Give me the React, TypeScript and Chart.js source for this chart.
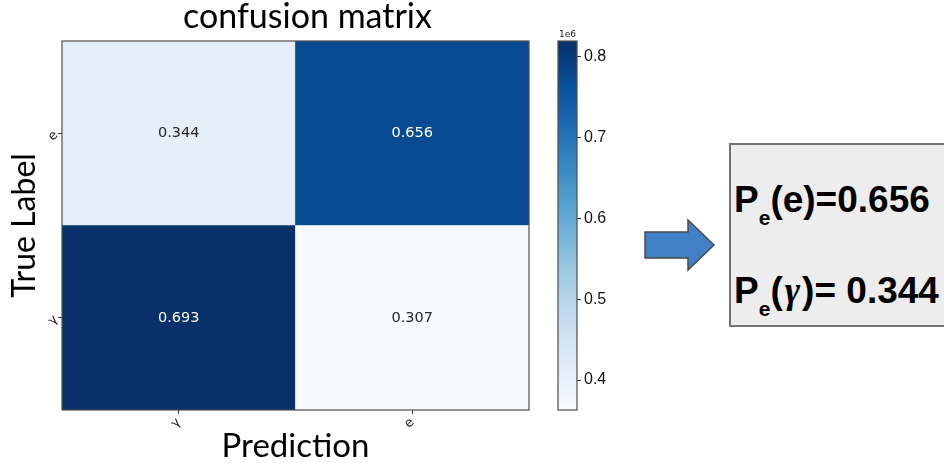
import React, { useEffect, useRef } from "react";
import { Chart, registerables } from "chart.js";

Chart.register(...registerables);

// Class names: predicted classes along x, true classes along y (bottom row first)
const predictedClasses = ["γ", "e"];
const trueClasses = ["γ", "e"];

// Event counts for each true class, split by predicted class (γ, e)
const countsTrueGamma = [819000, 363000];
const countsTrueE = [405000, 773000];

// Colour-bar tick values, in units of 1e6 events
const colorbarTicks = [0.4, 0.5, 0.6, 0.7, 0.8];

// matplotlib "Blues" colour map anchors
const BLUES = [
  "#f7fbff", "#deebf7", "#c6dbef", "#9ecae1", "#6baed6",
  "#4292c6", "#2171b5", "#08519c", "#08306b",
];

const rowCounts = [countsTrueGamma, countsTrueE];
const allCounts = rowCounts.flat();
const vmin = Math.min(...allCounts);
const vmax = Math.max(...allCounts);
const threshold = (vmin + vmax) / 2;

function hexToRgb(h: string) {
  const n = parseInt(h.slice(1), 16);
  return [(n >> 16) & 255, (n >> 8) & 255, n & 255];
}

function blues(t: number) {
  const x = Math.min(1, Math.max(0, t)) * (BLUES.length - 1);
  const i = Math.min(BLUES.length - 2, Math.floor(x));
  const f = x - i;
  const a = hexToRgb(BLUES[i]);
  const b = hexToRgb(BLUES[i + 1]);
  const c = a.map((v, k) => Math.round(v + (b[k] - v) * f));
  return `rgb(${c[0]}, ${c[1]}, ${c[2]})`;
}

// Row-normalised rate for true class `row`, predicted class `col`
function rate(row: number, col: number) {
  const counts = rowCounts[row];
  const total = counts.reduce((s, v) => s + v, 0);
  return counts[col] / total;
}

const frameBorder = {
  id: "frameBorder",
  afterDatasetsDraw(chart: any) {
    const { left, top, right, bottom } = chart.chartArea;
    const ctx = chart.ctx;
    ctx.save();
    ctx.strokeStyle = "#4d4d4d";
    ctx.lineWidth = 1.2;
    ctx.strokeRect(left, top, right - left, bottom - top);
    ctx.restore();
  },
};

const cellValues = {
  id: "cellValues",
  afterDatasetsDraw(chart: any) {
    const ctx = chart.ctx;
    ctx.save();
    ctx.font = '14.5px "DejaVu Sans"';
    ctx.textAlign = "center";
    ctx.textBaseline = "middle";
    chart.data.datasets.forEach((_ds: any, di: number) => {
      const meta = chart.getDatasetMeta(di);
      meta.data.forEach((el: any, ci: number) => {
        const count = rowCounts[di][ci];
        ctx.fillStyle = count > threshold ? "#ffffff" : "#262626";
        ctx.fillText(rate(di, ci).toFixed(3), el.x, (el.y + el.base) / 2);
      });
    });
    ctx.restore();
  },
};

const heading = {
  id: "heading",
  afterDraw(chart: any) {
    const { left, right, top } = chart.chartArea;
    const ctx = chart.ctx;
    ctx.save();
    ctx.font = '34px "Lato"';
    ctx.fillStyle = "#000000";
    ctx.textAlign = "center";
    ctx.textBaseline = "alphabetic";
    ctx.fillText("confusion matrix", (left + right) / 2 + 12, top - 13);
    ctx.restore();
  },
};

const exponentLabel = {
  id: "exponentLabel",
  afterDraw(chart: any) {
    const { left, top } = chart.chartArea;
    const ctx = chart.ctx;
    ctx.save();
    ctx.font = '9px "DejaVu Sans"';
    ctx.fillStyle = "#222222";
    ctx.textAlign = "left";
    ctx.textBaseline = "alphabetic";
    ctx.fillText("1e6", left + 1, top - 4);
    ctx.restore();
  },
};

function Heatmap() {
  const ref = useRef<HTMLCanvasElement>(null);
  useEffect(() => {
    if (!ref.current) return;
    const datasets = rowCounts.map((counts, i) => ({
      label: trueClasses[i],
      data: counts.map(() => [i, i + 1]),
      backgroundColor: counts.map((c) => blues((c - vmin) / (vmax - vmin))),
      borderWidth: 0,
      barPercentage: 1,
      categoryPercentage: 1,
      grouped: false,
    }));
    const chart = new Chart(ref.current, {
      type: "bar",
      data: { labels: predictedClasses, datasets: datasets as any },
      options: {
        responsive: false,
        animation: false,
        events: [],
        layout: { padding: { left: 0, top: 41, right: 85, bottom: 0 } },
        plugins: {
          legend: { display: false },
          tooltip: { enabled: false },
          title: { display: false },
        },
        scales: {
          x: {
            type: "category",
            offset: true,
            grid: {
              offset: false,
              drawOnChartArea: false,
              drawTicks: true,
              tickLength: 4,
              tickColor: "#333333",
            },
            border: { display: false },
            ticks: {
              minRotation: 45,
              maxRotation: 45,
              padding: 1,
              color: "#262626",
              font: { family: "DejaVu Sans", size: 13 },
            },
            title: {
              display: true,
              text: "Prediction",
              color: "#000000",
              font: { family: "Lato", size: 33, lineHeight: 1 },
              padding: { top: 0, bottom: 0 },
            },
            afterFit(scale: any) {
              scale.height = 53;
            },
          },
          y: {
            type: "linear",
            min: 0,
            max: trueClasses.length,
            afterBuildTicks(scale: any) {
              scale.ticks = trueClasses.map((_, i) => ({ value: i + 0.5 }));
            },
            grid: {
              drawOnChartArea: false,
              drawTicks: true,
              tickLength: 4,
              tickColor: "#333333",
            },
            border: { display: false },
            ticks: {
              minRotation: 45,
              maxRotation: 45,
              padding: 2,
              color: "#262626",
              font: { family: "DejaVu Sans", size: 13 },
              callback: (v: any) => trueClasses[Math.floor(Number(v))],
            },
            title: {
              display: true,
              text: "True Label",
              color: "#000000",
              font: { family: "Lato", size: 32, lineHeight: 1.2 },
              padding: { top: 5, bottom: 0 },
            },
            afterFit(scale: any) {
              scale.width = 62;
            },
          },
        },
      },
      plugins: [frameBorder, cellValues, heading],
    });
    return () => chart.destroy();
  }, []);
  return (
    <canvas
      ref={ref}
      width={614}
      height={463}
      style={{ position: "absolute", left: 0, top: 0, width: 614, height: 463 }}
    />
  );
}

function Colorbar() {
  const ref = useRef<HTMLCanvasElement>(null);
  useEffect(() => {
    if (!ref.current) return;
    const chart = new Chart(ref.current, {
      type: "bar",
      data: {
        labels: [""],
        datasets: [
          {
            data: [[vmin, vmax]] as any,
            backgroundColor: (ctx: any) => {
              const area = ctx.chart.chartArea;
              if (!area) return BLUES[0];
              const g = ctx.chart.ctx.createLinearGradient(0, area.bottom, 0, area.top);
              BLUES.forEach((c, i) => g.addColorStop(i / (BLUES.length - 1), c));
              return g;
            },
            borderWidth: 0,
            barPercentage: 1,
            categoryPercentage: 1,
          },
        ],
      },
      options: {
        responsive: false,
        animation: false,
        events: [],
        layout: { padding: { left: 18, top: 41, right: 0, bottom: 53 } },
        plugins: {
          legend: { display: false },
          tooltip: { enabled: false },
        },
        scales: {
          x: { display: false, offset: true },
          y: {
            type: "linear",
            position: "right",
            min: vmin,
            max: vmax,
            afterBuildTicks(scale: any) {
              scale.ticks = colorbarTicks.map((v) => ({ value: v * 1e6 }));
            },
            grid: {
              drawOnChartArea: false,
              drawTicks: true,
              tickLength: 4,
              tickColor: "#333333",
            },
            border: { display: false },
            ticks: {
              padding: 3,
              color: "#111111",
              font: { family: '"Liberation Sans", Arial, sans-serif', size: 16 },
              callback: (v: any) => (Number(v) / 1e6).toFixed(1),
            },
            afterFit(scale: any) {
              scale.width = 63;
            },
          },
        },
      },
      plugins: [frameBorder, exponentLabel],
    });
    return () => chart.destroy();
  }, []);
  return (
    <canvas
      ref={ref}
      width={100}
      height={463}
      style={{ position: "absolute", left: 540, top: 0, width: 100, height: 463 }}
    />
  );
}

function ResultPanel() {
  const pEE = rate(1, 1).toFixed(3);
  const pEGamma = rate(1, 0).toFixed(3);
  const lineStyle: React.CSSProperties = {
    position: "absolute",
    left: 734,
    fontFamily: '"Liberation Sans", Arial, sans-serif',
    fontWeight: "bold",
    fontSize: 37,
    lineHeight: "37px",
    color: "#000000",
    whiteSpace: "nowrap",
  };
  const sub: React.CSSProperties = {
    fontSize: 21,
    position: "relative",
    top: 13,
  };
  return (
    <>
      <svg
        width={80}
        height={60}
        style={{ position: "absolute", left: 640, top: 215 }}
      >
        <polygon
          points="5,17 48,17 48,5 74,30 48,55 48,43 5,43"
          fill="#4180c6"
          stroke="#4a4a4a"
          strokeWidth={1.5}
          strokeLinejoin="miter"
        />
      </svg>
      <div
        style={{
          position: "absolute",
          left: 729,
          top: 143,
          width: 240,
          height: 184,
          boxSizing: "border-box",
          background: "#ededed",
          border: "2px solid #737373",
        }}
      />
      <div style={{ ...lineStyle, top: 181 }}>
        P<span style={sub}>e</span>(e)={pEE}
      </div>
      <div style={{ ...lineStyle, top: 272 }}>
        P<span style={sub}>e</span>(
        <span
          style={{
            fontFamily: '"Liberation Serif", serif',
            fontStyle: "italic",
            margin: "0 2px",
          }}
        >
          γ
        </span>
        )= {pEGamma}
      </div>
    </>
  );
}

export default function App() {
  return (
    <div
      style={{
        position: "fixed",
        left: 0,
        top: 0,
        width: 944,
        height: 463,
        background: "#ffffff",
        overflow: "hidden",
      }}
    >
      <Heatmap />
      <Colorbar />
      <ResultPanel />
    </div>
  );
}
